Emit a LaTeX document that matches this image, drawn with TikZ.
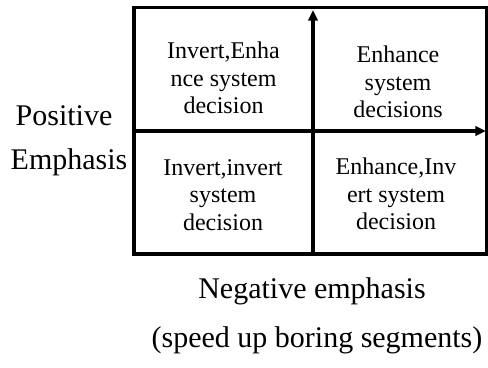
\documentclass[tikz,border=0pt]{standalone}
\usepackage{fontspec}
\setmainfont{Liberation Serif}[Ligatures=TeX]
\newfontfamily\diagfont{Liberation Serif}
\usetikzlibrary{arrows.meta,positioning,calc}
\tikzset{
    % Plain frame lines
    frame line/.style={
        draw=black,
        line width=2.5pt
    },
    axis arrow/.style={
        -{Triangle[length=8pt,width=7pt]},
        line width=2.5pt,
        color=black
    },
    quadrant/.style={
        align=center,
        inner sep=0pt,
        font=\diagfont\fontsize{18}{20.5}\selectfont
    },
    axis label/.style={
        anchor=base,
        inner sep=0pt,
        font=\diagfont\fontsize{22.5}{27}\selectfont
    }
}

\begin{document}
\begin{tikzpicture}[x=0.75pt, y=-0.75pt]
        \useasboundingbox (0,0) rectangle (488,367);
        % Frame corners and axis ends
        \coordinate (nw) at (134,7.5);
        \coordinate (se) at (486.5,254);
        \coordinate (vbottom) at (313,254);
        \coordinate (vtop) at (313,10);
        \coordinate (hleft) at (134,131);
        \coordinate (hright) at (486,131);

        % Nodes
        \node[quadrant] (invenh) at (223.5,78) {Invert,Enha\\nce system\\decision};
        \node[quadrant] (enhenh) at (398,82) {Enhance\\system\\decisions};
        \node[quadrant] (invinv) at (223,195) {Invert,invert\\system\\decision};
        \node[quadrant] (enhinv) at (396,194) {Enhance,Inv\\ert system\\decision};

        % Axis labels
        \node[axis label] (pos) at (64,126) {Positive};
        \node[axis label] (emph) at (69,169) {Emphasis};
        \node[axis label] (neg) at (312,298) {Negative emphasis};
        \node[axis label] (speed) at (317,347) {(speed up boring segments)};

        % Frame
        \draw[frame line] (nw) rectangle (se);

        % Arrows
        \draw[axis arrow] (vbottom) -- (vtop);
        \draw[axis arrow] (hleft) -- (hright);
    \end{tikzpicture}
\end{document}
